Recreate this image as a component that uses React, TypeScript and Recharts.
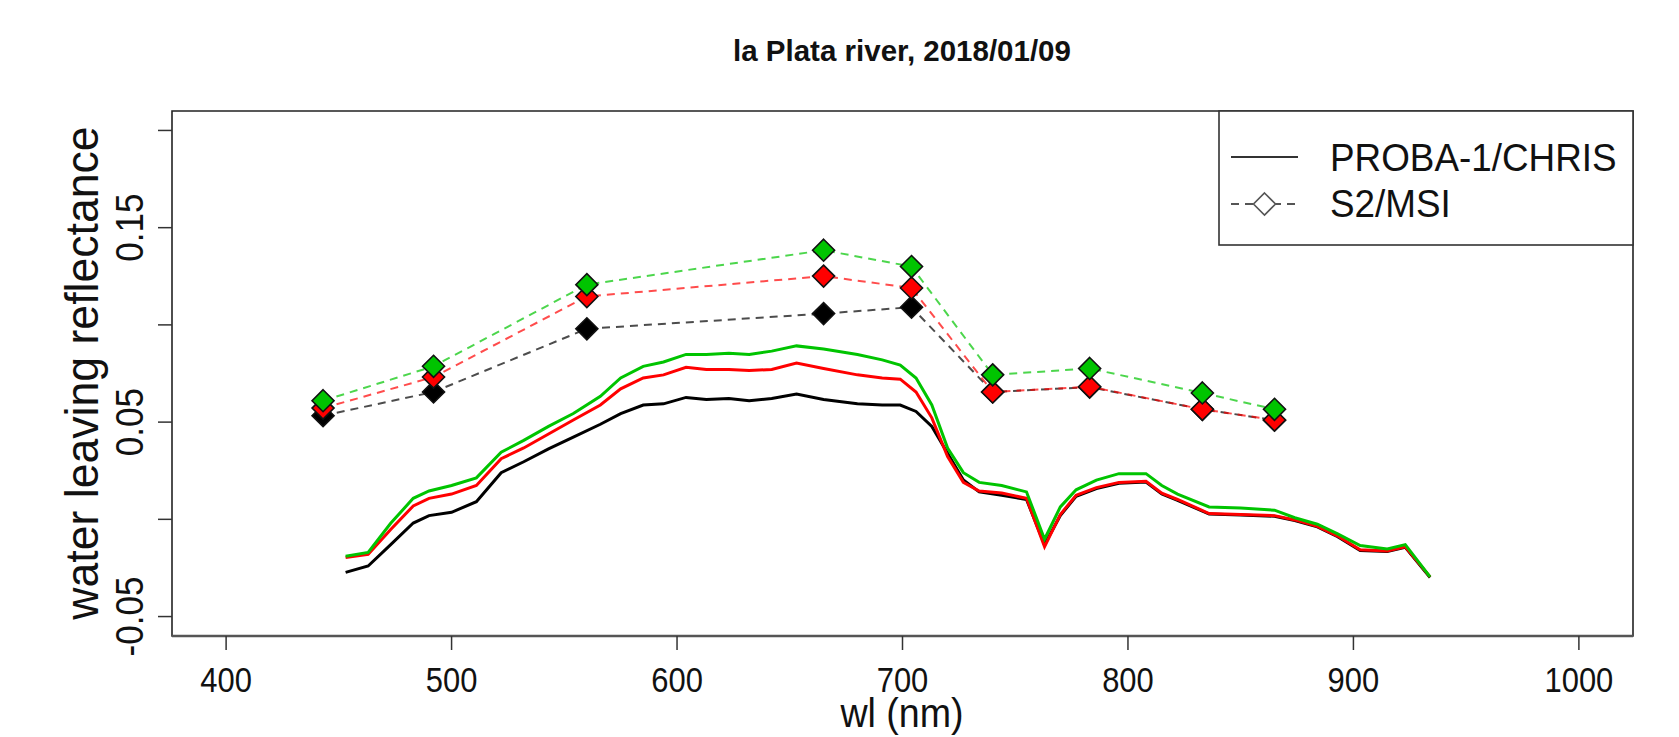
import React from 'react';
import { LineChart, Line, XAxis, YAxis, ReferenceArea } from 'recharts';

// CHRIS (PROBA-1) hyperspectral water-leaving reflectance
const chrisWl = [453, 463, 473, 483, 490, 500, 511, 522, 532, 543, 554, 566, 575, 585, 594, 604, 613, 623, 632, 642, 653, 665, 680, 691, 699, 706, 713, 720, 727, 734, 744, 755, 763, 770, 777, 786, 796, 808, 815, 822, 836, 850, 865, 874, 884, 893, 903, 915, 923, 934];
const chrisBlack = [-0.0273, -0.024, -0.013, -0.0019, 0.0019, 0.0036, 0.0091, 0.024, 0.0296, 0.0362, 0.0423, 0.0489, 0.0544, 0.0588, 0.0594, 0.0627, 0.0616, 0.0622, 0.061, 0.0622, 0.0644, 0.0616, 0.0594, 0.0588, 0.0588, 0.0555, 0.0478, 0.034, 0.0202, 0.0141, 0.0124, 0.0102, -0.013, 0.002, 0.0118, 0.0158, 0.0185, 0.0192, 0.013, 0.0098, 0.0027, 0.0022, 0.0016, -0.0006, -0.0039, -0.0089, -0.016, -0.0166, -0.0144, -0.0299];
const chrisRed = [-0.0196, -0.018, -0.0052, 0.0069, 0.0108, 0.013, 0.0174, 0.0312, 0.0367, 0.0439, 0.0511, 0.0588, 0.0671, 0.0727, 0.0743, 0.0782, 0.0771, 0.0771, 0.0765, 0.0771, 0.0804, 0.0776, 0.0743, 0.0727, 0.0721, 0.0655, 0.0522, 0.0323, 0.019, 0.0146, 0.0135, 0.0108, -0.0141, 0.0025, 0.0124, 0.0163, 0.019, 0.0196, 0.0135, 0.0102, 0.003, 0.0025, 0.0019, -0.0003, -0.0036, -0.0086, -0.0157, -0.0163, -0.0141, -0.0296];
const chrisGreen = [-0.019, -0.017, -0.002, 0.0108, 0.0146, 0.0174, 0.0213, 0.0345, 0.0406, 0.0478, 0.0544, 0.0633, 0.0727, 0.0787, 0.0809, 0.0848, 0.0848, 0.0854, 0.0848, 0.0865, 0.0892, 0.0876, 0.0848, 0.082, 0.0793, 0.0727, 0.0588, 0.0367, 0.024, 0.019, 0.0174, 0.0141, -0.0102, 0.0064, 0.0152, 0.0202, 0.0235, 0.0235, 0.0174, 0.013, 0.0064, 0.0058, 0.0047, 0.0008, -0.0025, -0.0075, -0.0135, -0.0152, -0.013, -0.0296];

// S2/MSI band reflectance
const msiWl = [443, 492, 560, 665, 704, 740, 783, 833, 865];
const msiBlack = [0.0533, 0.0655, 0.098, 0.1058, 0.1091, 0.0655, 0.068, 0.0566, 0.051];
const msiRed = [0.0572, 0.0732, 0.1146, 0.1251, 0.119, 0.0655, 0.0682, 0.0566, 0.0511];
const msiGreen = [0.061, 0.0787, 0.1207, 0.1384, 0.130, 0.0743, 0.0776, 0.065, 0.0566];

const xTicks = [400, 500, 600, 700, 800, 900, 1000];
const yTicks = [-0.05, 0, 0.05, 0.1, 0.15, 0.2];
const yLabelled = ['-0.05', '0.05', '0.15'];

const title = 'la Plata river, 2018/01/09';
const xLabel = 'wl (nm)';
const yLabel = 'water leaving reflectance';
const legendNames = ['PROBA-1/CHRIS', 'S2/MSI'];

const W = 1679;
const H = 737;
const FONT = '"Liberation Sans", Arial, Helvetica, sans-serif';
const GREEN = '#00C400';
const RED = '#FF0000';
const BLACK = '#000000';

const toSeries = (xs: number[], ys: number[]) => xs.map((wl, i) => ({ wl, v: ys[i] }));

const makeDiamond = (color: string) => (props: any) => {
  const { cx, cy, index } = props;
  if (cx == null || cy == null) return <g key={`n-${index}`} />;
  const r = 11;
  return (
    <polygon
      key={`d-${color}-${index}`}
      points={`${cx},${cy - r} ${cx + r},${cy} ${cx},${cy + r} ${cx - r},${cy}`}
      fill={color}
      stroke="#111"
      strokeWidth={1.6}
    />
  );
};

const XTick = (props: any) => {
  const { x, y, payload } = props;
  return (
    <g transform={`translate(${x},${y + 42}) scale(0.86,1)`}>
      <text x={0} y={0} textAnchor="middle" fontSize={36} fontFamily={FONT} fill="#111">
        {String(payload.value)}
      </text>
    </g>
  );
};

const YTick = (props: any) => {
  const { x, y, payload } = props;
  const label = String(payload.value);
  if (!yLabelled.includes(label)) return <g />;
  return (
    <g transform={`translate(${x - 15},${y}) rotate(-90) scale(0.9,1)`}>
      <text x={0} y={0} textAnchor="middle" fontSize={39} fontFamily={FONT} fill="#111">
        {label}
      </text>
    </g>
  );
};

export default function App() {
  const solid = [
    { name: 'chrisBlack', data: toSeries(chrisWl, chrisBlack), color: BLACK },
    { name: 'chrisRed', data: toSeries(chrisWl, chrisRed), color: RED },
    { name: 'chrisGreen', data: toSeries(chrisWl, chrisGreen), color: GREEN },
  ];
  const dashed = [
    { name: 'msiBlack', data: toSeries(msiWl, msiBlack), color: BLACK },
    { name: 'msiRed', data: toSeries(msiWl, msiRed), color: RED },
    { name: 'msiGreen', data: toSeries(msiWl, msiGreen), color: GREEN },
  ];
  return (
    <div style={{ position: 'absolute', left: 0, top: 0, width: W, height: H, background: '#fff' }}>
      <LineChart width={W} height={H} margin={{ top: 111, right: 46, bottom: 0, left: 0 }}>
        <XAxis
          dataKey="wl"
          type="number"
          domain={[376, 1024]}
          ticks={xTicks}
          allowDataOverflow
          height={101}
          tickSize={14}
          tickMargin={0}
          tick={<XTick />}
          axisLine={{ stroke: '#555', strokeWidth: 2.5 }}
          tickLine={{ stroke: '#333', strokeWidth: 1.5 }}
          interval={0}
        />
        <YAxis
          type="number"
          domain={[-0.06, 0.21]}
          ticks={yTicks}
          allowDataOverflow
          width={172}
          tickSize={14}
          tickMargin={0}
          tick={<YTick />}
          axisLine={false}
          tickLine={{ stroke: '#333', strokeWidth: 1.5 }}
          interval={0}
        />
        <ReferenceArea
          x1={376}
          x2={1024}
          y1={-0.06}
          y2={0.21}
          fill="none"
          fillOpacity={0}
          stroke="#222"
          strokeWidth={1.6}
          ifOverflow="visible"
        />
        {solid.map((s) => (
          <Line
            key={s.name}
            data={s.data}
            dataKey="v"
            type="linear"
            stroke={s.color}
            strokeWidth={3}
            dot={false}
            isAnimationActive={false}
          />
        ))}
        {dashed.map((s) => (
          <Line
            key={s.name}
            data={s.data}
            dataKey="v"
            type="linear"
            stroke={s.color}
            strokeOpacity={0.7}
            strokeWidth={2}
            strokeDasharray="8 6"
            dot={makeDiamond(s.color)}
            activeDot={false}
            isAnimationActive={false}
          />
        ))}
      </LineChart>
      <svg
        width={W}
        height={H}
        style={{ position: 'absolute', left: 0, top: 0, pointerEvents: 'none' }}
      >
        <text x={902} y={61} textAnchor="middle" fontSize={29.5} fontWeight="bold" fontFamily={FONT} fill="#111">
          {title}
        </text>
        <g transform="translate(902,727) scale(0.94,1)">
          <text x={0} y={0} textAnchor="middle" fontSize={40} fontFamily={FONT} fill="#111">
            {xLabel}
          </text>
        </g>
        <g transform="translate(98,373) rotate(-90) scale(0.97,1)">
          <text x={0} y={0} textAnchor="middle" fontSize={46} fontFamily={FONT} fill="#111">
            {yLabel}
          </text>
        </g>
        {/* legend */}
        <rect x={1219} y={111} width={414} height={134} fill="#fff" stroke="#333" strokeWidth={1.6} />
        <line x1={1231} x2={1298} y1={157} y2={157} stroke="#333" strokeWidth={2} />
        <line x1={1231} x2={1298} y1={204} y2={204} stroke="#555" strokeWidth={1.8} strokeDasharray="8 6" />
        <polygon points="1264.5,193 1275.5,204 1264.5,215 1253.5,204" fill="#fff" stroke="#555" strokeWidth={1.6} />
        <g transform="translate(1330,171) scale(0.97,1)">
          <text x={0} y={0} fontSize={38} fontFamily={FONT} fill="#111">{legendNames[0]}</text>
        </g>
        <g transform="translate(1330,217) scale(0.97,1)">
          <text x={0} y={0} fontSize={38} fontFamily={FONT} fill="#111">{legendNames[1]}</text>
        </g>
      </svg>
    </div>
  );
}
